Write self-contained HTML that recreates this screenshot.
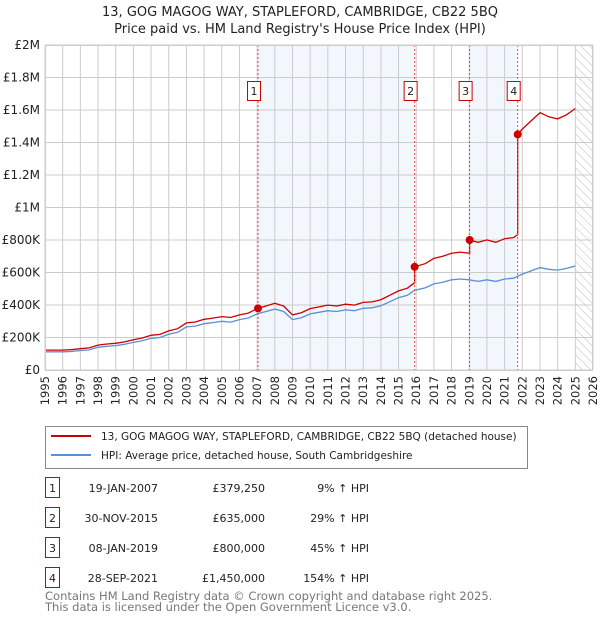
<!DOCTYPE html>
<html><head><meta charset="utf-8"><style>
body{margin:0;background:#fff;font-family:"DejaVu Sans","Liberation Sans",sans-serif}
svg text{font-family:"DejaVu Sans","Liberation Sans",sans-serif}
</style></head><body>
<svg id="c" width="600" height="620" xmlns="http://www.w3.org/2000/svg">
<defs><pattern id="hatch" width="6" height="6" patternUnits="userSpaceOnUse" patternTransform="rotate(-45)"><line x1="0" y1="0" x2="0" y2="6" stroke="#bbb" stroke-width="1"/></pattern></defs>
<text x="300" y="16" text-anchor="middle" font-size="13" fill="#222">13, GOG MAGOG WAY, STAPLEFORD, CAMBRIDGE, CB22 5BQ</text>
<text x="300" y="33" text-anchor="middle" font-size="13" fill="#222">Price paid vs. HM Land Registry's House Price Index (HPI)</text>
<g id="plot"></g>
<g>
<rect x="45.5" y="426.5" width="482" height="42" fill="#fff" stroke="#888"/>
<line x1="51" y1="436" x2="91" y2="436" stroke="#cc0000" stroke-width="2"/>
<text x="101" y="440" font-size="10.5" fill="#222">13, GOG MAGOG WAY, STAPLEFORD, CAMBRIDGE, CB22 5BQ (detached house)</text>
<line x1="51" y1="455" x2="91" y2="455" stroke="#5b8fd6" stroke-width="2"/>
<text x="101" y="459" font-size="10.5" fill="#222">HPI: Average price, detached house, South Cambridgeshire</text>
</g>
<g id="table" font-size="11" fill="#222"></g>
<text x="45" y="600" font-size="11.5" fill="#777">Contains HM Land Registry data © Crown copyright and database right 2025.</text>
<text x="45" y="611" font-size="11.5" fill="#777">This data is licensed under the Open Government Licence v3.0.</text>
</svg>
<script>
const hpiYears=[1995,1995.5,1996,1996.5,1997,1997.5,1998,1998.5,1999,1999.5,2000,2000.5,2001,2001.5,2002,2002.5,2003,2003.5,2004,2004.5,2005,2005.5,2006,2006.5,2007,2007.5,2008,2008.5,2009,2009.5,2010,2010.5,2011,2011.5,2012,2012.5,2013,2013.5,2014,2014.5,2015,2015.5,2015.9,2016.5,2017,2017.5,2018,2018.5,2019,2019.5,2020,2020.5,2021,2021.5,2022,2022.5,2023,2023.5,2024,2024.5,2025];
const hpiValues=[112,112,112,114,120,124,140,146,150,158,170,180,195,200,220,232,265,270,285,292,300,295,310,320,345,360,375,360,310,322,345,355,365,360,370,365,380,383,395,420,445,460,490,505,530,540,555,560,555,545,555,545,560,565,590,610,630,620,615,625,640];
const saleDates=[2007.05,2015.91,2019.02,2021.74];
const saleLabels=["19-JAN-2007","30-NOV-2015","08-JAN-2019","28-SEP-2021"];
const salePrices=[379250,635000,800000,1450000];
const salePriceText=["£379,250","£635,000","£800,000","£1,450,000"];
const saleHpiText=["9% ↑ HPI","29% ↑ HPI","45% ↑ HPI","154% ↑ HPI"];
const yTicks=[0,200,400,600,800,1000,1200,1400,1600,1800,2000];
const yTickLabels=["£0","£200K","£400K","£600K","£800K","£1M","£1.2M","£1.4M","£1.6M","£1.8M","£2M"];
const xYears=[];for(let y=1995;y<=2026;y++)xYears.push(y);

const L=45,R=593,T=45,B=370;
const X=t=>L+(t-1995)/31*(R-L);
const Y=v=>B-v/2000*(B-T);
const NS="http://www.w3.org/2000/svg";
const plot=document.getElementById('plot');
function mk(tag,attrs,parent){const e=document.createElementNS(NS,tag);for(const k in attrs)e.setAttribute(k,attrs[k]);(parent||plot).appendChild(e);return e;}
function hpiAt(t){for(let i=1;i<hpiYears.length;i++){if(t<=hpiYears[i]){const a=hpiYears[i-1],b=hpiYears[i];return hpiValues[i-1]+(hpiValues[i]-hpiValues[i-1])*(t-a)/(b-a);}}return hpiValues[hpiValues.length-1];}

[[0,1],[2,3]].forEach(p=>{const r=mk('rect',{x:X(saleDates[p[0]]),y:T,width:X(saleDates[p[1]])-X(saleDates[p[0]]),height:B-T,fill:'#f2f6fd'});

});
const h=mk('rect',{x:X(2025),y:T,width:R-X(2025),height:B-T,fill:'url(#hatch)'});


xYears.forEach(y=>{const l=mk('line',{x1:X(y),x2:X(y),y1:T,y2:B,stroke:'#ccc','stroke-width':1});


const t=mk('text',{x:0,y:0,'font-size':11.5,fill:'#222','text-anchor':'end',transform:`translate(${X(y)+4},${B+6}) rotate(-90)`});t.textContent=y;

});
yTicks.forEach((v,i)=>{const l=mk('line',{x1:L,x2:R,y1:Y(v),y2:Y(v),stroke:'#ccc','stroke-width':1});


const t=mk('text',{x:L-5,y:Y(v)+4,'font-size':12,fill:'#222','text-anchor':'end'});t.textContent=yTickLabels[i];

});
let d='';hpiYears.forEach((t,i)=>{d+=(i?'L':'M')+X(t).toFixed(1)+','+Y(hpiValues[i]).toFixed(1);});
const hp=mk('path',{d:d,fill:'none',stroke:'#5b8fd6','stroke-width':1.3});


const factors=saleDates.map((t,i)=>salePrices[i]/1000/hpiAt(t));
const pts=[];
hpiYears.forEach((t,i)=>{let k=0;for(let j=0;j<saleDates.length;j++)if(t>=saleDates[j])k=j;pts.push([t,hpiValues[i]*factors[k]]);});
saleDates.forEach((t,j)=>{const prev=j?factors[j-1]:factors[0];pts.push([t-0.0001,hpiAt(t)*prev]);pts.push([t,salePrices[j]/1000]);});
pts.sort((a,b)=>a[0]-b[0]);
d='';pts.forEach((p,i)=>{d+=(i?'L':'M')+X(p[0]).toFixed(1)+','+Y(p[1]).toFixed(1);});
const pp=mk('path',{d:d,fill:'none',stroke:'#cc0000','stroke-width':1.3});


saleDates.forEach((t,i)=>{
const vl=mk('line',{x1:X(t),x2:X(t),y1:T,y2:B,stroke:'#e05050','stroke-width':1,'stroke-dasharray':'2,2'});


const c=mk('circle',{cx:X(t),cy:Y(salePrices[i]/1000),r:4,fill:'#cc0000'});


const bx=mk('rect',{x:X(t)-10.5,y:81.5,width:13,height:19,fill:'#fff',stroke:'#cc0000'});


const tx=mk('text',{x:X(t)-4,y:95,'font-size':11,fill:'#222','text-anchor':'middle'});tx.textContent=i+1;


});
mk('rect',{x:L+0.5,y:T+0.5,width:R-L-1,height:B-T,fill:'none',stroke:'#ccc'});
const tb=document.getElementById('table');
saleDates.forEach((t,i)=>{const y=492+i*30;
const b=mk('rect',{x:45.5,y:y-14.5,width:14,height:20,fill:'#fff',stroke:'#cc0000'},tb);


const cells=[[52.5,'middle',i+1],[158,'end',saleLabels[i]],[265,'end',salePriceText[i]],[369,'end',saleHpiText[i]]];
cells.forEach(c=>{const e=mk('text',{x:c[0],y:y,'text-anchor':c[1]},tb);e.textContent=c[2];

});});
</script>
</body></html>
